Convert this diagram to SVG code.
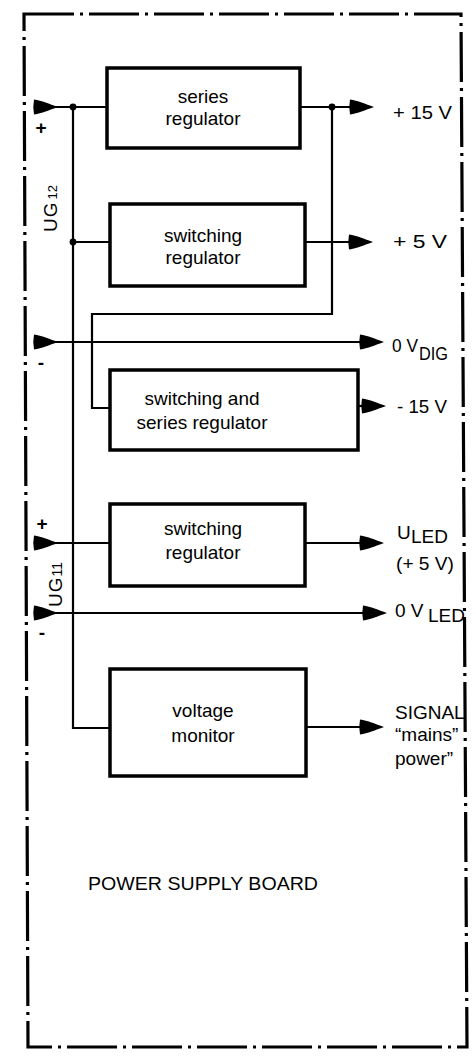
<svg xmlns="http://www.w3.org/2000/svg" xmlns:xlink="http://www.w3.org/1999/xlink" width="476" height="1056" viewBox="0 0 476 1056">
<style>
.border{fill:none;stroke:#000;stroke-width:3.2;stroke-dasharray:50 6 3 6}
.box{fill:#fff;stroke:#000;stroke-width:3.5}
.wire{fill:none;stroke:#000;stroke-width:2.2}
.lbl{font-family:"Liberation Sans",Arial,sans-serif;font-size:19px;fill:#000}
.c{text-anchor:middle}
.dot{fill:#000}
</style>
<defs>
<path id="ah" d="M0,-7.5 C8,-6.5 15,-3 24,0 C15,3 8,6.5 0,7.5 Q-1.5,0 0,-7.5 Z" fill="#000"/>
</defs>
<rect width="476" height="1056" fill="#fff"/>
<path class="border" d="M24,14 L461,14 L467,1047 L28,1047 Z"/>

<g id="connectors">
<path class="wire" d="M34,107 L107,107"/>
<path class="wire" d="M73,107 L73,728 L110,728"/>
<path class="wire" d="M73,242 L110,242"/>
<path class="wire" d="M300,107 L352,107"/>
<path class="wire" d="M332,107 L332,314 L92,314 L92,408 L110,408"/>
<path class="wire" d="M305,242 L350,242"/>
<path class="wire" d="M34,342 L362,342"/>
<path class="wire" d="M358,406 L363,406"/>
<path class="wire" d="M34,543 L110,543"/>
<path class="wire" d="M305,543 L362,543"/>
<path class="wire" d="M34,613 L365,613"/>
<path class="wire" d="M306,727 L362,727"/>
<circle class="dot" cx="73" cy="107" r="3.4"/>
<circle class="dot" cx="73" cy="242" r="3.4"/>
<circle class="dot" cx="332" cy="107" r="3.4"/>
<use xlink:href="#ah" transform="translate(34,107)"/>
<use xlink:href="#ah" transform="translate(350,107)"/>
<use xlink:href="#ah" transform="translate(349,242)"/>
<use xlink:href="#ah" transform="translate(34,342)"/>
<use xlink:href="#ah" transform="translate(360,342)"/>
<use xlink:href="#ah" transform="translate(362,406)"/>
<use xlink:href="#ah" transform="translate(34,543)"/>
<use xlink:href="#ah" transform="translate(360,543)"/>
<use xlink:href="#ah" transform="translate(34,613)"/>
<use xlink:href="#ah" transform="translate(363,613)"/>
<use xlink:href="#ah" transform="translate(360,727)"/>
</g>

<g id="series-regulator">
<rect class="box" x="107" y="68" width="193" height="80"/>
<text class="lbl c" x="203" y="103">series</text>
<text class="lbl c" x="203" y="125">regulator</text>
</g>
<g id="switching-regulator-1">
<rect class="box" x="110" y="204" width="195" height="82"/>
<text class="lbl c" x="203" y="242">switching</text>
<text class="lbl c" x="203" y="264">regulator</text>
</g>
<g id="switching-series-regulator">
<rect class="box" x="110" y="370" width="248" height="80"/>
<text class="lbl c" x="202" y="405">switching and</text>
<text class="lbl c" x="202" y="429">series regulator</text>
</g>
<g id="switching-regulator-2">
<rect class="box" x="110" y="504" width="195" height="82"/>
<text class="lbl c" x="203" y="535">switching</text>
<text class="lbl c" x="203" y="559">regulator</text>
</g>
<g id="voltage-monitor">
<rect class="box" x="110" y="669" width="196" height="107"/>
<text class="lbl c" x="203" y="717">voltage</text>
<text class="lbl c" x="203" y="742">monitor</text>
</g>

<g id="inputs">
<text class="lbl c" x="41" y="134" font-weight="bold" font-size="17">+</text>
<text class="lbl c" x="41" y="369" font-weight="bold" font-size="22">-</text>
<text class="lbl c" x="42" y="530" font-weight="bold" font-size="17">+</text>
<text class="lbl c" x="42" y="639" font-weight="bold" font-size="22">-</text>
<text class="lbl" transform="translate(57,232) rotate(-90)" font-size="18">U<tspan dx="1">G</tspan><tspan dx="3" font-size="13">12</tspan></text>
<text class="lbl" transform="translate(62,607) rotate(-90)" font-size="18">U<tspan dx="1">G</tspan><tspan dx="1" font-size="14">11</tspan></text>
</g>

<g id="outputs">
<text class="lbl" x="393" y="119" textLength="59" lengthAdjust="spacingAndGlyphs">+ 15 V</text>
<text class="lbl" x="393" y="248" textLength="54" lengthAdjust="spacingAndGlyphs">+ 5 V</text>
<text class="lbl" x="392" y="352" font-size="24" textLength="26" lengthAdjust="spacingAndGlyphs">0 V</text>
<text class="lbl" x="419" y="360" font-size="16" textLength="29" lengthAdjust="spacingAndGlyphs">DIG</text>
<text class="lbl" x="397" y="413" textLength="50" lengthAdjust="spacingAndGlyphs">- 15 V</text>
<text class="lbl" x="397" y="539" font-size="18">U</text>
<text class="lbl" x="411" y="543" font-size="18">LED</text>
<text class="lbl" x="396" y="570" textLength="58" lengthAdjust="spacingAndGlyphs">(+ 5 V)</text>
<text class="lbl" x="395" y="617" font-size="17">0 V</text>
<text class="lbl" x="428" y="622" font-size="17">LED</text>
<text class="lbl" x="395" y="719">SIGNAL</text>
<text class="lbl" x="395" y="741">“mains”</text>
<text class="lbl" x="395" y="765">power”</text>
</g>

<text id="board-title" class="lbl" x="88" y="890" font-size="19.5" textLength="230" lengthAdjust="spacingAndGlyphs">POWER SUPPLY BOARD</text>
</svg>
